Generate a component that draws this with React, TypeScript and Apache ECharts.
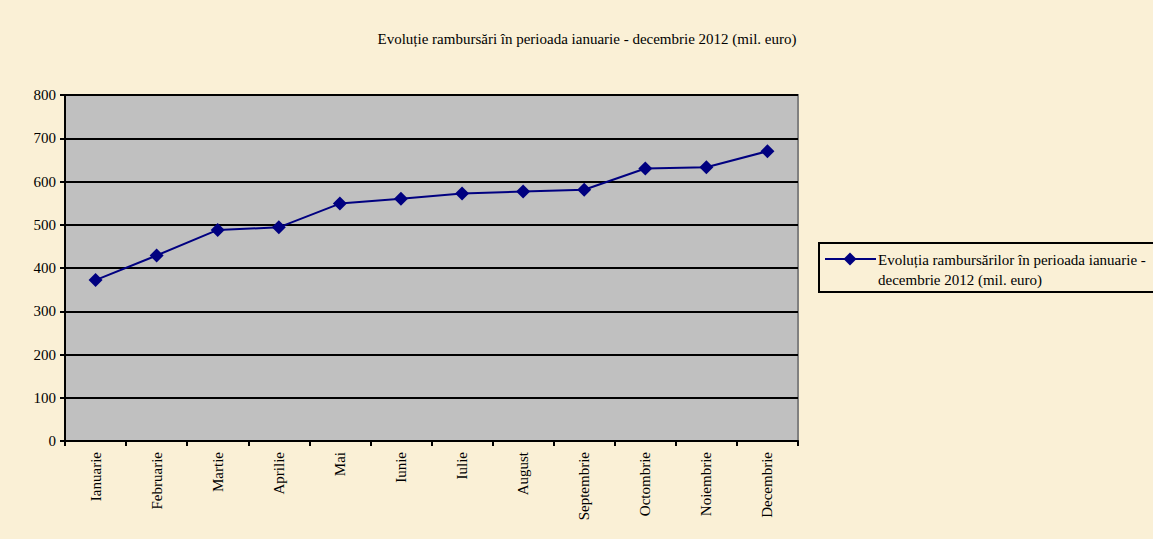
import React, { useEffect, useRef } from "react";
import * as echarts from "echarts";

const categories = ["Ianuarie", "Februarie", "Martie", "Aprilie", "Mai", "Iunie", "Iulie", "August", "Septembrie", "Octombrie", "Noiembrie", "Decembrie"];
const values = [372, 429, 488, 494, 549, 560, 572, 577, 581, 630, 633, 670];
const yTicks = { min: 0, max: 800, interval: 100 };
const seriesName = "Evoluția rambursărilor în perioada ianuarie - decembrie 2012 (mil. euro)";
const legendLines = ["Evoluția rambursărilor în perioada ianuarie -", "decembrie 2012 (mil. euro)"];
const titleText = "Evoluție rambursări în perioada ianuarie - decembrie 2012 (mil. euro)";

const FONT = "'Liberation Serif', 'Times New Roman', serif";
const NAVY = "#000080";

export default function App() {
  const ref = useRef<HTMLDivElement>(null);
  useEffect(() => {
    if (!ref.current) return;
    const chart = echarts.init(ref.current, null, { renderer: "svg" });
    chart.setOption({
      animation: false,
      backgroundColor: "#FAF0D6",
      title: {
        text: titleText,
        left: 582,
        top: 26,
        textAlign: "center",
        textStyle: { fontFamily: FONT, fontSize: 15, fontWeight: "normal", color: "#000" },
      },
      grid: { left: 65, right: 355, top: 95, bottom: 98, show: true, backgroundColor: "#C0C0C0", borderColor: "#808080", borderWidth: 2 },
      legend: { show: false },
      graphic: [
        {
          type: "rect",
          shape: { x: 819, y: 243, width: 345, height: 49 },
          style: { fill: "none", stroke: "#000", lineWidth: 2 },
        },
        {
          type: "line",
          shape: { x1: 825, y1: 259, x2: 876, y2: 259 },
          style: { stroke: NAVY, lineWidth: 2 },
        },
        {
          type: "polygon",
          shape: { points: [[850, 252.5], [856.5, 259], [850, 265.5], [843.5, 259]] },
          style: { fill: NAVY },
        },
        {
          type: "text",
          x: 878,
          y: 250,
          style: {
            text: legendLines.join("\n"),
            font: `15px ${FONT}`,
            fill: "#000",
            lineHeight: 20,
          },
        },
      ],
      xAxis: {
        type: "category",
        data: categories,
        boundaryGap: true,
        axisLine: { lineStyle: { color: "#000", width: 2 } },
        axisTick: { show: true, length: 5, lineStyle: { color: "#000", width: 2 } },
        axisLabel: { rotate: 90, margin: 11, fontFamily: FONT, fontSize: 15, color: "#000", interval: 0 },
        splitLine: { show: false },
      },
      yAxis: {
        type: "value",
        min: yTicks.min,
        max: yTicks.max,
        interval: yTicks.interval,
        axisLine: { show: true, lineStyle: { color: "#000", width: 2 } },
        axisTick: { show: true, length: 5, lineStyle: { color: "#000", width: 2 } },
        axisLabel: { margin: 9, fontFamily: FONT, fontSize: 15, color: "#000" },
        splitLine: { show: true, lineStyle: { color: "#000", width: 2 } },
      },
      series: [
        {
          name: seriesName,
          type: "line",
          data: values,
          symbol: "diamond",
          symbolSize: 14,
          itemStyle: { color: NAVY },
          lineStyle: { color: NAVY, width: 2 },
        },
      ],
    });
    return () => chart.dispose();
  }, []);
  return <div ref={ref} style={{ width: 1153, height: 539, position: "absolute", left: 0, top: 0 }} />;
}
